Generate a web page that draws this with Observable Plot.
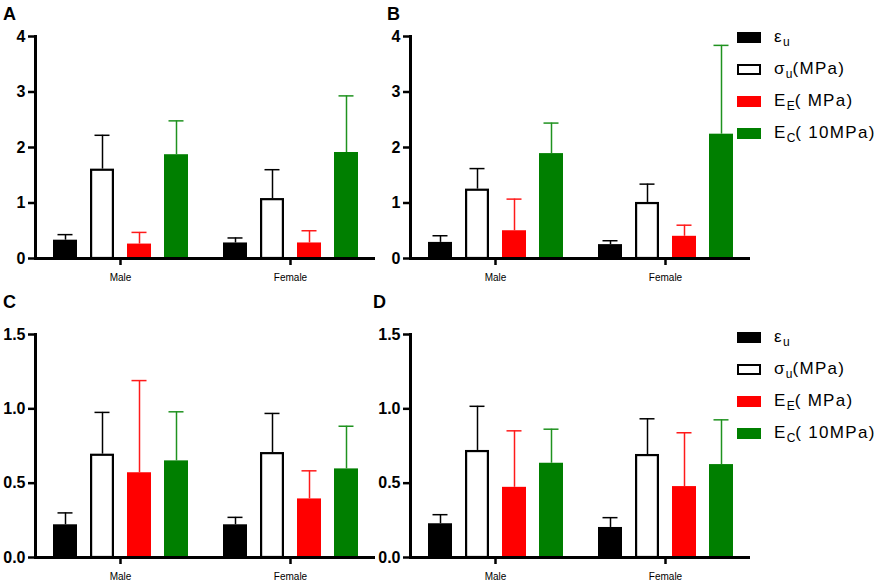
<!DOCTYPE html>
<html><head><meta charset="utf-8">
<script src="https://cdn.jsdelivr.net/npm/d3@7"></script>
<script src="https://cdn.jsdelivr.net/npm/@observablehq/plot@0.6"></script>
<style>
body{margin:0;background:#fff;}
#root{position:relative;width:886px;height:581px;overflow:hidden;font-family:"Liberation Sans",Arial,sans-serif;}
.panel{position:absolute;}
.letter{position:absolute;font-weight:bold;font-size:18px;line-height:18px;}
.row{position:absolute;height:20px;display:flex;align-items:center;white-space:nowrap;}
.sw{width:24px;height:11px;box-sizing:border-box;margin-right:13px;flex:none;}
.lt{font-size:17px;letter-spacing:1.3px;line-height:20px;}
.lt sub{font-size:12px;vertical-align:-4px;line-height:0;letter-spacing:0;}
</style>
</head><body>
<div id="root"></div>
<script>
// ---- data ----
const groups = ["Male", "Female"];
const series = ["eps_u", "sigma_u", "E_E", "E_C"];
const legendLabels = ["ε<sub>u</sub>", "σ<sub>u</sub>(MPa)", "E<sub>E</sub>( MPa)", "E<sub>C</sub>( 10MPa)"];
const fills = ["#000000", "#ffffff", "#ff0000", "#007f00"];
const errColors = ["#000000", "#000000", "#ff1a1a", "#1f921f"];

// panel A (mean, mean + SD)
const aMale = [0.33, 1.61, 0.26, 1.87];
const aMaleUpper = [0.43, 2.22, 0.47, 2.48];
const aFemale = [0.28, 1.08, 0.28, 1.91];
const aFemaleUpper = [0.37, 1.60, 0.50, 2.93];
// panel B
const bMale = [0.29, 1.25, 0.50, 1.89];
const bMaleUpper = [0.41, 1.62, 1.07, 2.44];
const bFemale = [0.25, 1.01, 0.40, 2.24];
const bFemaleUpper = [0.32, 1.34, 0.60, 3.84];
// panel C
const cMale = [0.22, 0.695, 0.57, 0.65];
const cMaleUpper = [0.30, 0.976, 1.19, 0.98];
const cFemale = [0.22, 0.706, 0.394, 0.596];
const cFemaleUpper = [0.27, 0.969, 0.583, 0.883];
// panel D
const dMale = [0.227, 0.72, 0.472, 0.634];
const dMaleUpper = [0.288, 1.017, 0.852, 0.863];
const dFemale = [0.202, 0.693, 0.477, 0.625];
const dFemaleUpper = [0.268, 0.933, 0.839, 0.926];

const ticksAB = [0, 1, 2, 3, 4];
const ticksCD = [0, 0.5, 1.0, 1.5];

// ---- build ----
function table(male, maleUp, female, femaleUp) {
  const rows = [];
  [[male, maleUp], [female, femaleUp]].forEach(([m, u], gi) => {
    series.forEach((s, si) => rows.push({group: groups[gi], series: s, value: m[si], upper: u[si]}));
  });
  return rows;
}
const si = d => series.indexOf(d.series);

function panel(rows, yMax, yTicks, fmt, height, mTop, mBottom) {
  return Plot.plot({
    width: 380, height,
    marginLeft: 34, marginRight: 5, marginTop: mTop, marginBottom: mBottom,
    style: {fontFamily: '"Liberation Sans", Arial, sans-serif', background: "transparent", overflow: "visible", color: "#000"},
    fx: {domain: groups, paddingInner: 0, paddingOuter: 0, label: null},
    x: {domain: series, paddingInner: 0.36, paddingOuter: 0.453, axis: null},
    y: {domain: [0, yMax], axis: null},
    marks: [
      Plot.barY(rows, {filter: d => d.series !== "sigma_u", fx: "group", x: "series", y: "value", fill: d => fills[si(d)]}),
      Plot.barY(rows, {filter: d => d.series === "sigma_u", fx: "group", x: "series", y: "value", fill: "white", stroke: "black", strokeWidth: 2.2, insetTop: 1.1, insetLeft: 1.1, insetRight: 1.1}),
      Plot.ruleX(rows, {fx: "group", x: "series", y1: "value", y2: "upper", stroke: d => errColors[si(d)], strokeWidth: 1.5}),
      Plot.tickY(rows, {fx: "group", x: "series", y: "upper", stroke: d => errColors[si(d)], strokeWidth: 1.5, insetLeft: 4.5, insetRight: 4.5}),
      Plot.ruleY([0], {stroke: "black", strokeWidth: 3}),
      Plot.frame({anchor: "left", facetAnchor: "left", stroke: "black", strokeWidth: 3}),
      Plot.axisY({ticks: yTicks, tickFormat: fmt, tickSize: 7, tickPadding: 3, stroke: "black", strokeWidth: 2.5, fontSize: 16, fontWeight: "bold", label: null, facetAnchor: "left"}),
      Plot.axisFx({anchor: "bottom", tickSize: 7, tickPadding: 8, stroke: "black", strokeWidth: 2.5, fontSize: 10, label: null})
    ]
  });
}

const root = document.getElementById("root");
function place(el, left, top) {
  el.classList.add("panel");
  el.style.left = left + "px";
  el.style.top = top + "px";
  root.appendChild(el);
}
function letter(t, left, top) {
  const d = document.createElement("div");
  d.className = "letter"; d.textContent = t;
  d.style.left = left + "px"; d.style.top = top + "px";
  root.appendChild(d);
}
function legend(left, centers) {
  series.forEach((s, i) => {
    const r = document.createElement("div");
    r.className = "row";
    r.style.left = left + "px";
    r.style.top = (centers[i] - 10) + "px";
    const sw = document.createElement("div");
    sw.className = "sw";
    sw.style.background = fills[i];
    if (i === 1) sw.style.border = "2.5px solid #000";
    const t = document.createElement("span");
    t.className = "lt";
    t.innerHTML = legendLabels[i];
    r.appendChild(sw); r.appendChild(t);
    root.appendChild(r);
  });
}

const fmtInt = d3.format("d");
const fmt1 = d3.format(".1f");
place(panel(table(aMale, aMaleUpper, aFemale, aFemaleUpper), 4, ticksAB, fmtInt, 290, 36, 32), 0, 0);
place(panel(table(bMale, bMaleUpper, bFemale, bFemaleUpper), 4, ticksAB, fmtInt, 290, 36, 32), 375, 0);
place(panel(table(cMale, cMaleUpper, cFemale, cFemaleUpper), 1.5, ticksCD, fmt1, 291, 44, 24), 0, 290);
place(panel(table(dMale, dMaleUpper, dFemale, dFemaleUpper), 1.5, ticksCD, fmt1, 291, 44, 24), 375, 290);

letter("A", 3, 5); letter("B", 387, 5);
letter("C", 3, 293); letter("D", 373, 293);
legend(737, [37, 69, 101, 133]);
legend(737, [337, 369, 401, 433]);
</script>
</body></html>
